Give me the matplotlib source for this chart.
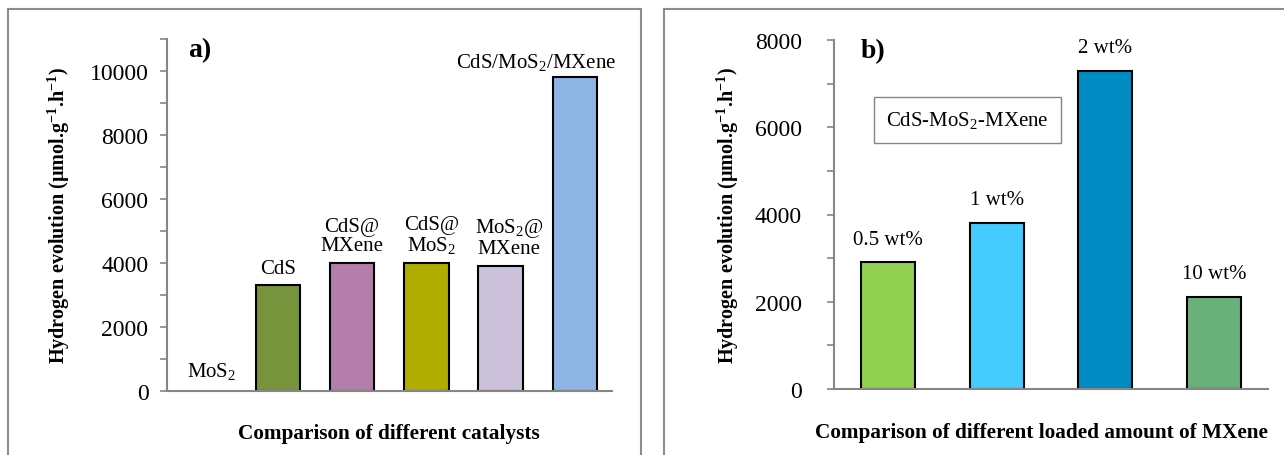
import matplotlib
matplotlib.use("Agg")
import matplotlib.pyplot as plt
from matplotlib.patches import Rectangle
from matplotlib.ticker import MultipleLocator

plt.rcParams['font.family'] = ['Liberation Serif', 'DejaVu Serif']
plt.rcParams['mathtext.fontset'] = 'custom'
plt.rcParams['mathtext.rm'] = 'Liberation Serif'
plt.rcParams['mathtext.default'] = 'regular'

# panel a: catalysts
cat_a = ["MoS$_2$", "CdS", "CdS@\nMXene", "CdS@\nMoS$_2$", "MoS$_2$@\nMXene", "CdS/MoS$_2$/MXene"]
h2_a = [0, 3300, 4000, 4000, 3900, 9800]
col_a = ["#ffffff", "#77933c", "#b47eab", "#b1ac00", "#ccc1da", "#8db4e3"]

# panel b: MXene loading
cat_b = ["0.5 wt%", "1 wt%", "2 wt%", "10 wt%"]
h2_b = [2900, 3800, 7300, 2100]
col_b = ["#92d050", "#46cbff", "#008cc2", "#6ab07a"]

ylab = "Hydrogen evolution (µmol.g$^{-1}$.h$^{-1}$)"
grey = "#868686"

fig = plt.figure(figsize=(12.84, 4.56), dpi=100)

# outer frames around each panel
fig.patches.append(Rectangle((8 / 1284, -0.05), 633 / 1284, 1.05 - 10 / 456,
                             transform=fig.transFigure, fill=False,
                             edgecolor="#8c8c8c", lw=1.5))
fig.patches.append(Rectangle((664 / 1284, -0.05), 0.5, 1.05 - 10 / 456,
                             transform=fig.transFigure, fill=False,
                             edgecolor="#8c8c8c", lw=1.5))

ax1 = fig.add_axes([166.5 / 1284, 64 / 456, 445.5 / 1284, 352 / 456])
ax2 = fig.add_axes([834 / 1284, 66 / 456, 434 / 1284, 349 / 456])


def style(ax, top, pad):
    ax.set_ylim(0, top)
    ax.yaxis.set_major_locator(MultipleLocator(2000))
    ax.yaxis.set_minor_locator(MultipleLocator(1000))
    for s in ("top", "right"):
        ax.spines[s].set_visible(False)
    for s in ("left", "bottom"):
        ax.spines[s].set_color(grey)
        ax.spines[s].set_linewidth(1.5)
    ax.tick_params(axis="y", which="both", direction="out", color=grey,
                   width=1.2, length=5, labelsize=17, pad=pad)
    ax.tick_params(axis="x", length=0, labelbottom=False)


xa = range(len(cat_a))
bars = ax1.bar(xa, h2_a, width=0.6, color=col_a, edgecolor="black", linewidth=1.5)
bars[0].set_visible(False)
ax1.set_xlim(-0.5, len(cat_a) - 0.5)
style(ax1, 11000, 8)
offs = [(6, 7), (0, 5), (0, 6), (4, 6), (6, 6), (-28, 4)]
for i, (lab, v) in enumerate(zip(cat_a, h2_a)):
    ax1.annotate(lab, (i, v), xytext=offs[i], textcoords="offset points",
                 ha="center", va="bottom", fontsize=15, linespacing=1.0)
ax1.set_ylabel(ylab, fontsize=14.5, fontweight="bold", labelpad=13)
ax1.set_xlabel("Comparison of different catalysts", fontsize=15.3,
               fontweight="bold", labelpad=23)
ax1.text(0.075, 0.97, "a)", transform=ax1.transAxes, fontsize=20,
         fontweight="bold", va="center", ha="center")

xb = range(len(cat_b))
ax2.bar(xb, h2_b, width=0.5, color=col_b, edgecolor="black", linewidth=1.5)
ax2.set_xlim(-0.5, len(cat_b) - 0.5)
style(ax2, 8000, 18)
for i, (lab, v) in enumerate(zip(cat_b, h2_b)):
    ax2.annotate(lab, (i, v), xytext=(0, 10), textcoords="offset points",
                 ha="center", va="bottom", fontsize=15)
ax2.set_ylabel(ylab, fontsize=14.5, fontweight="bold", labelpad=10)
ax2.set_xlabel("Comparison of different loaded amount of MXene", fontsize=15.3,
               fontweight="bold")
ax2.xaxis.set_label_coords(0.477, -0.095)
ax2.text(0.09, 0.97, "b)", transform=ax2.transAxes, fontsize=20,
         fontweight="bold", va="center", ha="center")
ax2.text(0.308, 0.772, "CdS-MoS$_2$-MXene", transform=ax2.transAxes, fontsize=15,
         ha="center", va="center",
         bbox=dict(boxstyle="square,pad=0.6", fc="white", ec=grey, lw=1))

fig.savefig("out.png", dpi=100)
